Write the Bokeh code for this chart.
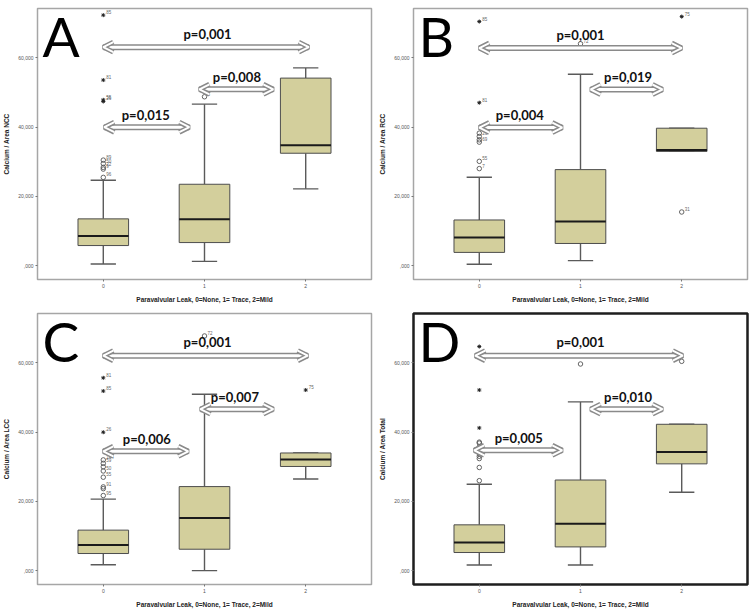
from bokeh.plotting import figure
from bokeh.layouts import gridplot
from bokeh.models import FixedTicker, Range1d, Arrow, OpenHead, ColumnDataSource
from bokeh.core.properties import value
from bokeh.embed import file_html
from bokeh.resources import INLINE

# ---------------- data ----------------
groups = [0, 1, 2]
x_tick_labels = ["0", "1", "2"]
y_ticks = [0, 20000, 40000, 60000]
y_tick_labels = [",000", "20,000", "40,000", "60,000"]
x_title = "Paravalvular Leak, 0=None, 1= Trace, 2=Mild"
letters = ["A", "B", "C", "D"]
y_titles = ["Calcium / Area NCC", "Calcium / Area RCC", "Calcium / Area LCC", "Calcium / Area Total"]

# box statistics per group 0,1,2
low_A = [500, 1240, 22190]
q1_A = [5810, 6670, 32480]
med_A = [8570, 13430, 34760]
q3_A = [13520, 23520, 54190]
high_A = [24670, 46670, 57140]

low_B = [400, 1440, 33010]
q1_B = [3830, 6410, 33010]
med_B = [8130, 12730, 33390]
q3_B = [13200, 27750, 39710]
high_B = [25550, 55310, 39710]

low_C = [1710, 0, 26480]
q1_C = [4950, 6190, 30100]
med_C = [7430, 15240, 32100]
q3_C = [11710, 24290, 34000]
high_C = [20670, 50950, 34000]

low_D = [1620, 1620, 22670]
q1_D = [5240, 6860, 30860]
med_D = [8100, 13520, 34290]
q3_D = [13240, 26190, 42290]
high_D = [24950, 48760, 42290]

# outliers: group, value, kind (o = outlier circle, * = extreme), case label
out_g_A = [0, 0, 0, 0, 0, 0, 0, 0, 0, 1]
out_v_A = [72380, 53620, 47900, 47430, 30500, 29500, 28400, 27900, 25500, 48800]
out_k_A = ["*", "*", "*", "*", "o", "o", "o", "o", "o", "o"]
out_l_A = ["85", "81", "55", "26", "89", "50", "22", "9", "96", "5"]

out_g_B = [0, 0, 0, 0, 0, 0, 0, 0, 1, 2, 2]
out_v_B = [70530, 47080, 38280, 37320, 36360, 35690, 30140, 28040, 64110, 71960, 15500]
out_k_B = ["*", "*", "o", "o", "o", "o", "o", "o", "o", "*", "o"]
out_l_B = ["85", "81", "", "26", "", "69", "55", "7", "72", "75", "31"]

out_g_C = [0, 0, 0, 0, 0, 0, 0, 0, 0, 0, 0, 1, 2]
out_v_C = [55710, 51900, 40000, 32000, 31000, 30000, 28800, 27000, 24200, 23700, 21700, 67810, 52190]
out_k_C = ["*", "*", "*", "o", "o", "o", "o", "o", "o", "o", "o", "o", "*"]
out_l_C = ["81", "85", "26", "144", "59", "", "50", "55", "91", "", "95", "72", "75"]

out_g_D = [0, 0, 0, 0, 0, 0, 0, 0, 0, 0, 0, 1, 2]
out_v_D = [26000, 29810, 32380, 33050, 33810, 35710, 36860, 37140, 41240, 52190, 64760, 59710, 60480]
out_k_D = ["o", "o", "o", "o", "o", "o", "o", "o", "*", "*", "*", "o", "o"]
out_l_D = [""] * 13

# pairwise comparisons (p-values)
p_text_A = ["p=0,001", "p=0,015", "p=0,008"]
p_text_B = ["p=0,001", "p=0,004", "p=0,019"]
p_text_C = ["p=0,001", "p=0,006", "p=0,007"]
p_text_D = ["p=0,001", "p=0,005", "p=0,010"]

# ---------------- annotation placement ----------------
arr_x0_A = [0.0, 0.01, 0.95]; arr_x1_A = [2.03, 0.85, 1.68]; arr_y_A = [63140, 40000, 50950]
txt_x_A = [1.03, 0.42, 1.32]; txt_y_A = [66860, 43520, 54470]
arr_x0_B = [0.0, 0.0, 1.10]; arr_x1_B = [2.0, 0.82, 1.81]; arr_y_B = [62870, 39900, 50900]
txt_x_B = [1.0, 0.40, 1.47]; txt_y_B = [66650, 43410, 54400]
arr_x0_C = [0.0, 0.0, 0.96]; arr_x1_C = [2.02, 0.84, 1.68]; arr_y_C = [62100, 34480, 46670]
txt_x_C = [1.03, 0.43, 1.30]; txt_y_C = [65990, 38090, 50280]
arr_x0_D = [-0.04, -0.05, 1.10]; arr_x1_D = [2.01, 0.82, 1.81]; arr_y_D = [62100, 34760, 46670]
txt_x_D = [1.0, 0.39, 1.47]; txt_y_D = [65990, 38370, 50280]

letter_x = -0.6
letter_y = 66400

BOX_FILL = "#d3cf9c"
BOX_LINE = "#4d4d4d"
WHISK = "#5a5a5a"
ARROW_GRAY = "#8a8a8a"


def make_panel(letter, ytitle, stats, outl, arrows, texts, w, h, ml, mr, mt, mb, oc, ow):
    low, q1, med, q3, high = stats
    p = figure(width=w, height=h, x_range=Range1d(-0.65, 2.65), y_range=Range1d(-4000, 74300),
               output_backend="svg", toolbar_location=None,
               min_border_left=ml, min_border_right=mr, min_border_top=mt, min_border_bottom=mb,
               background_fill_color="white", border_fill_color="white")
    p.grid.visible = False
    p.outline_line_color = oc
    p.outline_line_width = ow

    for ax in (p.xaxis, p.yaxis):
        ax.axis_line_color = None
        ax.major_tick_line_color = "#777777"
        ax.major_tick_in = 0
        ax.major_tick_out = 2
        ax.minor_tick_line_color = None
        ax.major_label_text_font = "Liberation Sans"
        ax.major_label_text_font_size = "5px"
        ax.major_label_text_color = "#555555"
        ax.major_label_standoff = 2
        ax.axis_label_text_font = "Liberation Sans"
        ax.axis_label_text_font_style = "bold"
        ax.axis_label_text_font_size = "6.5px"
        ax.axis_label_text_color = "#222222"
    p.xaxis.ticker = FixedTicker(ticks=groups)
    p.xaxis.major_label_overrides = {g: lab for g, lab in zip(groups, x_tick_labels)}
    p.yaxis.ticker = FixedTicker(ticks=y_ticks)
    p.yaxis.major_label_overrides = {t: lab for t, lab in zip(y_ticks, y_tick_labels)}
    p.xaxis.axis_label = x_title
    p.yaxis.axis_label = ytitle
    p.xaxis.axis_label_standoff = 5
    p.yaxis.axis_label_standoff = 5

    src = ColumnDataSource(dict(x=groups, low=low, q1=q1, med=med, q3=q3, high=high))
    # whiskers
    p.segment(x0="x", x1="x", y0="q3", y1="high", source=src, line_color=WHISK, line_width=1.4)
    p.segment(x0="x", x1="x", y0="low", y1="q1", source=src, line_color=WHISK, line_width=1.4)
    # caps
    cap_src = ColumnDataSource(dict(xl=[g - 0.125 for g in groups], xr=[g + 0.125 for g in groups],
                                    low=low, high=high))
    p.segment(x0="xl", x1="xr", y0="high", y1="high", source=cap_src, line_color=WHISK, line_width=1.4)
    p.segment(x0="xl", x1="xr", y0="low", y1="low", source=cap_src, line_color=WHISK, line_width=1.4)
    # boxes
    p.vbar(x="x", width=0.5, bottom="q1", top="q3", source=src, fill_color=BOX_FILL,
           line_color=BOX_LINE, line_width=1)
    med_src = ColumnDataSource(dict(xl=[g - 0.25 for g in groups], xr=[g + 0.25 for g in groups], med=med))
    p.segment(x0="xl", x1="xr", y0="med", y1="med", source=med_src, line_color="#1a1a1a", line_width=2)

    # outliers
    og, ov, ok, ol = outl
    circ = ColumnDataSource(dict(x=[g for g, k in zip(og, ok) if k == "o"],
                                 y=[v for v, k in zip(ov, ok) if k == "o"]))
    star = ColumnDataSource(dict(x=[g for g, k in zip(og, ok) if k == "*"],
                                 y=[v for v, k in zip(ov, ok) if k == "*"]))
    p.scatter("x", "y", source=circ, marker="circle", size=4.5, fill_color=None,
              line_color="#555555", line_width=0.9)
    p.scatter("x", "y", source=star, marker="asterisk", size=4, line_color="#222222", line_width=1)
    lab = ColumnDataSource(dict(x=og, y=ov, t=ol))
    p.text("x", "y", text="t", source=lab, x_offset=3, y_offset=-1, text_font=value("Liberation Sans"),
           text_font_size="4.5px", text_color="#666666", text_baseline="bottom", text_align="left")

    # double arrows
    x0, x1, ay = arrows
    asrc = ColumnDataSource(dict(x0=x0, x1=x1, y=ay))
    p.segment(x0="x0", x1="x1", y0="y", y1="y", source=asrc, line_color=ARROW_GRAY, line_width=6)
    p.segment(x0="x0", x1="x1", y0="y", y1="y", source=asrc, line_color="white", line_width=3)
    for col, lw in ((ARROW_GRAY, 5), ("white", 2)):
        p.add_layout(Arrow(x_start="x0", y_start="y", x_end="x1", y_end="y", source=asrc,
                           line_color=None,
                           start=OpenHead(size=10, line_color=col, line_width=lw),
                           end=OpenHead(size=10, line_color=col, line_width=lw)))

    tx, ty, tt = texts
    p.text(x=tx, y=ty, text=tt, text_font=value("Lato"), text_font_style="bold",
           text_font_size="13px", text_color="#111111", text_align="center", text_baseline="middle")

    p.text(x=[letter_x], y=[letter_y], text=[letter], text_font=value("Lato"), text_font_size="55px",
           text_color="black", text_align="left", text_baseline="middle")
    return p


pA = make_panel(letters[0], y_titles[0], (low_A, q1_A, med_A, q3_A, high_A),
                (out_g_A, out_v_A, out_k_A, out_l_A), (arr_x0_A, arr_x1_A, arr_y_A),
                (txt_x_A, txt_y_A, p_text_A), 376, 305, 32, 4, 8, 23, "#a6a6a6", 1.5)
pB = make_panel(letters[1], y_titles[1], (low_B, q1_B, med_B, q3_B, high_B),
                (out_g_B, out_v_B, out_k_B, out_l_B), (arr_x0_B, arr_x1_B, arr_y_B),
                (txt_x_B, txt_y_B, p_text_B), 377, 305, 35, 6, 8, 24, "#a6a6a6", 1.5)
pC = make_panel(letters[2], y_titles[2], (low_C, q1_C, med_C, q3_C, high_C),
                (out_g_C, out_v_C, out_k_C, out_l_C), (arr_x0_C, arr_x1_C, arr_y_C),
                (txt_x_C, txt_y_C, p_text_C), 376, 305, 32, 5, 8, 24, "#a6a6a6", 1.5)
pD = make_panel(letters[3], y_titles[3], (low_D, q1_D, med_D, q3_D, high_D),
                (out_g_D, out_v_D, out_k_D, out_l_D), (arr_x0_D, arr_x1_D, arr_y_D),
                (txt_x_D, txt_y_D, p_text_D), 377, 305, 35, 6, 8, 25, "#1e1e1e", 2.5)

grid = gridplot([[pA, pB], [pC, pD]], toolbar_location=None)

open("out.html", "w").write(file_html(grid, INLINE))
